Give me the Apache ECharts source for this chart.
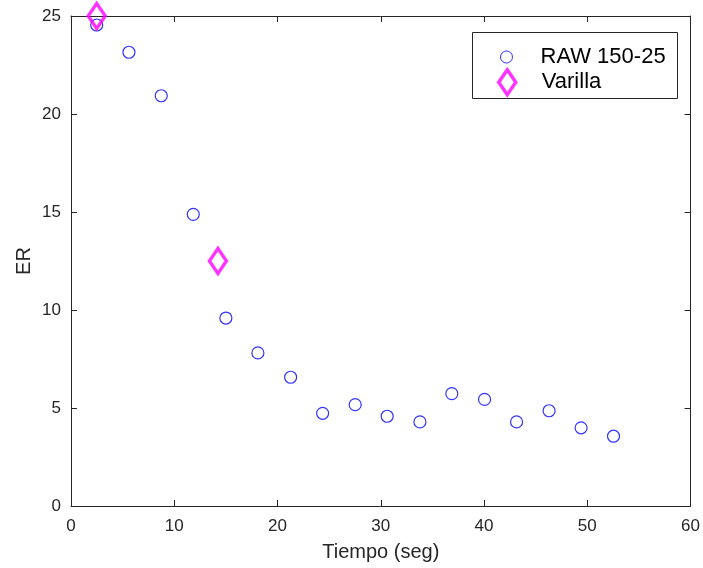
<!DOCTYPE html>
<html>
<head>
<meta charset="utf-8">
<script src="https://cdn.jsdelivr.net/npm/echarts@6/dist/echarts.min.js"></script>
<style>html,body{margin:0;padding:0;background:#fff}#c{width:703px;height:568px}</style>
</head>
<body>
<div id="c"></div>
<script>
var rawX = [2.49, 5.61, 8.74, 11.84, 15.0, 18.1, 21.27, 24.37, 27.52, 30.62, 33.79, 36.88, 40.05, 43.15, 46.3, 49.4, 52.54];
var rawY = [24.54, 23.15, 20.93, 14.88, 9.59, 7.81, 6.57, 4.73, 5.17, 4.58, 4.29, 5.73, 5.44, 4.29, 4.86, 3.99, 3.56];
var varX = [2.49, 14.23];
var varY = [25.0, 12.5];
var seriesNames = ['RAW 150-25', 'Varilla'];
var xTitle = 'Tiempo (seg)';
var yTitle = 'ER';

function pairs(xs, ys){ return xs.map(function(x,i){ return [x, ys[i]]; }); }

var axisColor = '#262626';
var font = 'Liberation Sans, Arial, Helvetica, sans-serif';
function mkAxis(pos, show, min, max, interval, name, gap, lblMargin){
  return {
    type:'value', position:pos, min:min, max:max, interval:interval,
    name: show ? name : '', nameLocation:'middle', nameGap:gap, nameMoveOverlap:false,
    nameTextStyle:{color:axisColor, fontSize:20, fontFamily:font},
    axisLine:{show:true, onZero:false, lineStyle:{color:axisColor, width:1}},
    axisTick:{show:true, inside:true, length:6, lineStyle:{color:axisColor, width:1}},
    axisLabel:{show:show, color:axisColor, fontSize:17, fontFamily:font, margin:lblMargin},
    splitLine:{show:false}
  };
}

var chart = echarts.init(document.getElementById('c'), null, {renderer:'canvas'});
chart.setOption({
  backgroundColor:'#fff',
  animation:false,
  grid:{left:71, right:12, top:16, bottom:62, containLabel:false},
  xAxis:[mkAxis('bottom', true, 0, 60, 10, xTitle, 36, 12), mkAxis('top', false, 0, 60, 10, '', 0, 0)],
  yAxis:[mkAxis('left', true, 0, 25, 5, yTitle, 37, 10), mkAxis('right', false, 0, 25, 5, '', 0, 0)],
  graphic:[{type:'rect', left:472, top:32, shape:{width:205, height:66}, style:{fill:'#fff', stroke:axisColor, lineWidth:1}, z:10}],
  legend:[
    {data:[{name:seriesNames[0], icon:'circle', itemStyle:{color:'transparent', borderColor:'#0000ff', borderWidth:1}}],
     left:500, top:46, padding:0, itemWidth:12, itemHeight:12, z:20,
     textStyle:{fontSize:22, fontFamily:font, color:'#000', lineHeight:12, padding:[0,0,0,23]}},
    {data:[{name:seriesNames[1], icon:'diamond', itemStyle:{color:'transparent', borderColor:'#ff00ff', borderWidth:3.5}}],
     left:497, top:68, padding:0, itemWidth:17, itemHeight:25, z:20,
     textStyle:{fontSize:22, fontFamily:font, color:'#000', lineHeight:25, padding:[0,0,0,21]}}
  ],
  series:[
    {name:seriesNames[0], type:'scatter', data:pairs(rawX, rawY), symbol:'circle', symbolSize:12, clip:false,
     itemStyle:{color:'transparent', borderColor:'#0000ff', borderWidth:1.2}, emphasis:{disabled:true}, z:2},
    {name:seriesNames[1], type:'scatter', data:pairs(varX, varY), symbol:'diamond', symbolSize:[17,25], clip:false,
     itemStyle:{color:'transparent', borderColor:'#ff00ff', borderWidth:3.5}, emphasis:{disabled:true}, z:3}
  ]
});
</script>
</body>
</html>
